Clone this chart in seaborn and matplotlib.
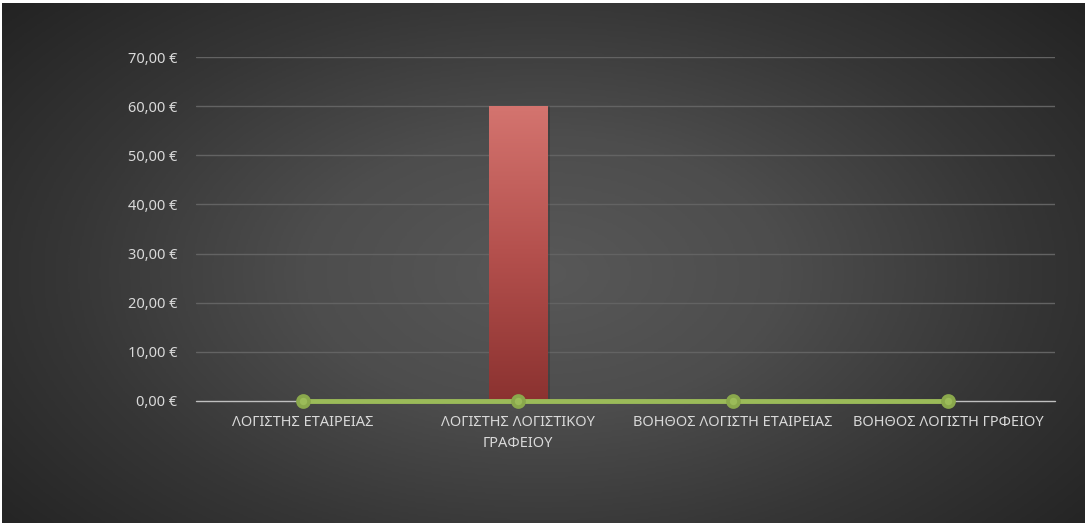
import numpy as np
import matplotlib
matplotlib.use("Agg")
import matplotlib.pyplot as plt
import seaborn as sns
import pandas as pd
from matplotlib.colors import LinearSegmentedColormap

categories = ["ΛΟΓΙΣΤΗΣ ΕΤΑΙΡΕΙΑΣ", "ΛΟΓΙΣΤΗΣ ΛΟΓΙΣΤΙΚΟΥ\nΓΡΑΦΕΙΟΥ",
              "ΒΟΗΘΟΣ ΛΟΓΙΣΤΗ ΕΤΑΙΡΕΙΑΣ", "ΒΟΗΘΟΣ ΛΟΓΙΣΤΗ ΓΡΦΕΙΟΥ"]
bar_values = [0, 60, 0, 0]
line_values = [0, 0, 0, 0]
y_ticks = [0, 10, 20, 30, 40, 50, 60, 70]
y_tick_labels = ["0,00 €", "10,00 €", "20,00 €", "30,00 €", "40,00 €", "50,00 €", "60,00 €", "70,00 €"]

sns.set_theme(style="white")
plt.rcParams['font.family'] = ['Noto Sans', 'DejaVu Sans']

W, H = 1087, 525
fig = plt.figure(figsize=(W / 100, H / 100), dpi=100, facecolor="white")

# background radial gradient
bg = fig.add_axes([2 / W, 2 / H, 1083 / W, 520 / H], zorder=0)
yy, xx = np.mgrid[0:1:300j, 0:1:600j]
r = np.sqrt(((xx - 0.5) / 0.66) ** 2 + ((yy - 0.52) / 0.8) ** 2)
r = np.clip(r, 0, 1)
bg_cmap = LinearSegmentedColormap.from_list("bg", ["#585858", "#4d4d4d", "#363636", "#232323"])
bg.imshow(r, cmap=bg_cmap, aspect="auto", extent=[0, 1, 0, 1], vmin=0, vmax=1, interpolation="bilinear")
bg.set_axis_off()

df_bar = pd.DataFrame({"cat": categories, "val": bar_values})
df_line = pd.DataFrame({"cat": categories, "val": line_values})

ax = fig.add_axes([195.5 / W, (H - 401) / H, 860 / W, 344 / H], zorder=1)
ax.patch.set_alpha(0)

sns.barplot(data=df_bar, x="cat", y="val", ax=ax, width=0.27, color="#b5504c",
            saturation=1, zorder=3, edgecolor="none")

# gradient fill inside bars
bar_cmap = LinearSegmentedColormap.from_list("bar", ["#8b3230", "#b4504d", "#d4746f"])
grad = np.linspace(0, 1, 256).reshape(-1, 1)
for p in ax.patches:
    h = p.get_height()
    if h <= 0:
        continue
    x0 = p.get_x()
    w = p.get_width()
    im = ax.imshow(grad, cmap=bar_cmap, aspect="auto", origin="lower",
                   extent=[x0, x0 + w, 0, h], zorder=3.5)
    im.set_clip_path(p)
    ax.add_patch(plt.Rectangle((x0 + w, 0), 0.012, h, color="black", alpha=0.15, zorder=2.9, lw=0))

sns.pointplot(data=df_line, x="cat", y="val", ax=ax, color="#9bbb59",
              markers="o", linewidth=3.5, markersize=8, zorder=5)
for coll in ax.collections:
    coll.set_clip_on(False)
    coll.set_zorder(6)
    coll.set_edgecolor("#8aa84c")
for ln in ax.lines:
    ln.set_clip_on(False)
    ln.set_zorder(5)
    ln.set_markeredgecolor("#8aa84c")

ax.set_ylim(0, 70)
ax.set_xlim(-0.5, len(categories) - 0.5)
ax.set_yticks(y_ticks)
ax.set_yticklabels(y_tick_labels)
for t in ax.get_xticklabels():
    t.set_linespacing(1.55)
for yv in y_ticks[1:]:
    ax.axhline(yv, color="#636363", lw=1, zorder=1)
ax.axhline(0, color="#bfbfbf", lw=1, zorder=2, clip_on=False)

ax.tick_params(axis="y", length=0, pad=13, labelsize=10.5, labelcolor="#d9d9d9")
ax.tick_params(axis="x", length=0, pad=10, labelsize=10.5, labelcolor="#d9d9d9")
ax.set_xlabel("")
ax.set_ylabel("")
for s in ax.spines.values():
    s.set_visible(False)
ax.grid(False)

fig.savefig("out.png", dpi=100, facecolor="white")
